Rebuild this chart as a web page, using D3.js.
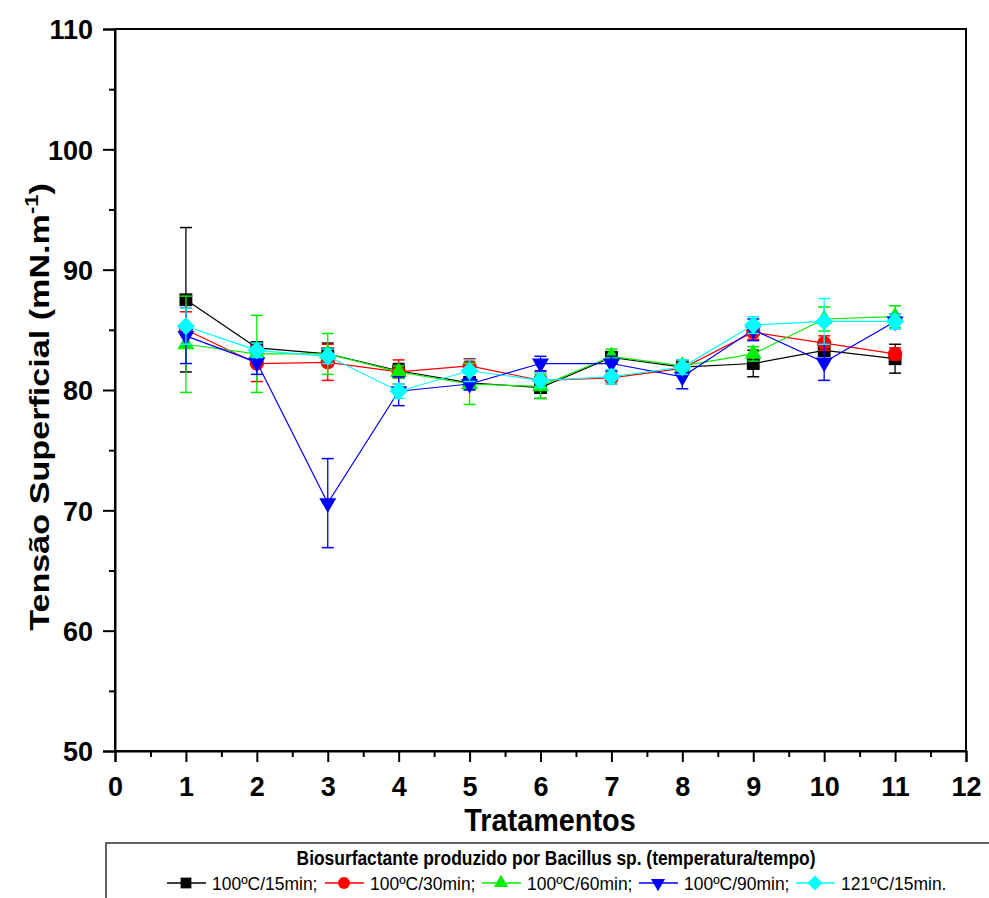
<!DOCTYPE html>
<meta charset="utf-8">
<style>
  body { margin: 0; background: #fff; }
  svg { display: block; font-family: "Liberation Sans", Arial, sans-serif; }
  .tick text { font-weight: bold; font-size: 27px; }
  .axis path, .axis line { stroke: #000; stroke-width: 2px; }
</style>
<body>
<script src="https://cdn.jsdelivr.net/npm/d3@7"></script>
<script>
// treatments on the x axis
var treatments = [1, 2, 3, 4, 5, 6, 7, 8, 9, 10, 11];

// series names (legend)
var seriesNames = ["100ºC/15min;", "100ºC/30min;", "100ºC/60min;", "100ºC/90min;", "121ºC/15min."];

// means, one array per series
var s15  = [87.5, 83.5, 83.0, 81.6, 80.6, 80.2, 82.7, 81.9, 82.2, 83.3, 82.6];
var s30  = [85.0, 82.2, 82.3, 81.5, 82.0, 80.8, 81.0, 81.8, 84.8, 83.9, 83.0];
var s60  = [83.8, 83.0, 83.0, 81.5, 80.5, 80.3, 82.8, 82.0, 83.0, 85.9, 86.1];
var s90  = [84.5, 82.3, 70.6, 79.9, 80.5, 82.2, 82.2, 81.1, 85.0, 82.3, 85.7];
var s121 = [85.3, 83.3, 82.8, 79.9, 81.6, 80.8, 81.1, 81.9, 85.4, 85.7, 85.7];

// standard deviations (error bars)
var e15  = [6.0, 0.5, 0.9, 0.6, 0.5, 0.9, 0.5, 0.6, 1.1, 0.5, 1.2];
var e30  = [1.5, 1.5, 1.5, 1.0, 0.6, 0.7, 0.5, 0.5, 0.6, 0.6, 0.5];
var e60  = [4.0, 3.2, 1.7, 0.5, 1.7, 1.0, 0.6, 0.5, 0.6, 1.0, 0.9];
var e90  = [2.3, 1.0, 3.7, 1.2, 0.5, 0.6, 0.6, 1.0, 0.9, 1.5, 0.6];
var e121 = [1.5, 0.6, 0.6, 0.6, 0.9, 0.6, 0.6, 0.6, 0.7, 1.9, 0.6];

var colors  = ["#000000", "#ff0000", "#00ee00", "#0000ff", "#00ffff"];
var means = [s15, s30, s60, s90, s121];
var errs  = [e15, e30, e60, e90, e121];

var xTicks = d3.range(0, 13);
var yTicks = [50, 60, 70, 80, 90, 100, 110];

// marker shapes: square, circle, up triangle, down triangle, diamond
function marker(i, k) {
  k = k || 1;
  if (i === 0) return {d: d3.symbol().type(d3.symbolSquare).size(165 * k)(), rot: 0};
  if (i === 1) return {d: d3.symbol().type(d3.symbolCircle).size(160 * k)(), rot: 0};
  if (i === 2) return {d: d3.symbol().type(d3.symbolTriangle).size(125 * k)(), rot: 0};
  if (i === 3) return {d: d3.symbol().type(d3.symbolTriangle).size(125 * k)(), rot: 180};
  return {d: d3.symbol().type(d3.symbolSquare).size(165 * k)(), rot: 45};
}

var W = 989, H = 898;
var margin = {left: 115, top: 29, right: 23, bottom: 147};

var svg = d3.select("body").append("svg").attr("width", W).attr("height", H);

var x = d3.scaleLinear().domain([0, 12]).range([margin.left, W - margin.right]);
var y = d3.scaleLinear().domain([50, 110]).range([H - margin.bottom, margin.top]);

// frame
svg.append("rect")
  .attr("x", x(0)).attr("y", y(110))
  .attr("width", x(12) - x(0)).attr("height", y(50) - y(110))
  .attr("fill", "none").attr("stroke", "#000").attr("stroke-width", 2);

// x axis, major + minor
var gx = svg.append("g").attr("class", "axis")
  .attr("transform", "translate(0," + y(50) + ")")
  .call(d3.axisBottom(x).tickValues(xTicks).tickFormat(d3.format("d")).tickSize(11).tickPadding(15));
svg.append("g").attr("class", "axis")
  .attr("transform", "translate(0," + y(50) + ")")
  .call(d3.axisBottom(x).tickValues(d3.range(0.5, 12, 1)).tickFormat("").tickSize(6))
  .select(".domain").remove();

var gy = svg.append("g").attr("class", "axis")
  .attr("transform", "translate(" + x(0) + ",0)")
  .call(d3.axisLeft(y).tickValues(yTicks).tickSize(12).tickPadding(10));
svg.append("g").attr("class", "axis")
  .attr("transform", "translate(" + x(0) + ",0)")
  .call(d3.axisLeft(y).tickValues(d3.range(55, 110, 10)).tickFormat("").tickSize(6))
  .select(".domain").remove();

gx.selectAll(".tick text").attr("dy", "0.71em");
gy.selectAll(".tick text").attr("dy", "0.36em");

// axis titles
svg.append("text")
  .attr("transform", "translate(550,831) scale(0.93,1)")
  .attr("text-anchor", "middle")
  .style("font-size", "31px").style("font-weight", "bold")
  .text("Tratamentos");

var yl = svg.append("text")
  .attr("transform", "translate(49,407) rotate(-90) scale(1.22,1)")
  .attr("text-anchor", "middle")
  .style("font-size", "28px").style("font-weight", "bold");
yl.append("tspan").text("Tensão Superficial (mN.m");
yl.append("tspan").attr("dy", -11).style("font-size", "18px").text("-1");
yl.append("tspan").attr("dy", 11).text(")");

// series
var line = d3.line().x(function(d){ return x(d.t); }).y(function(d){ return y(d.v); });

means.forEach(function(m, i){
  var pts = treatments.map(function(t, j){ return {t: t, v: m[j], e: errs[i][j]}; });
  var g = svg.append("g");

  g.append("path").datum(pts)
    .attr("d", line).attr("fill", "none")
    .attr("stroke", colors[i]).attr("stroke-width", 1.2);

  var eb = g.selectAll(".eb").data(pts).enter().append("g");
  eb.append("line")
    .attr("x1", function(d){ return x(d.t); }).attr("x2", function(d){ return x(d.t); })
    .attr("y1", function(d){ return y(d.v - d.e); }).attr("y2", function(d){ return y(d.v + d.e); })
    .attr("stroke", colors[i]).attr("stroke-width", 1.3);
  [-1, 1].forEach(function(s){
    eb.append("line")
      .attr("x1", function(d){ return x(d.t) - 6; }).attr("x2", function(d){ return x(d.t) + 6; })
      .attr("y1", function(d){ return y(d.v + s * d.e); }).attr("y2", function(d){ return y(d.v + s * d.e); })
      .attr("stroke", colors[i]).attr("stroke-width", 1.5);
  });

  var mk = marker(i);
  g.selectAll(".mk").data(pts).enter().append("path")
    .attr("d", mk.d)
    .attr("transform", function(d){
      return "translate(" + x(d.t) + "," + y(d.v) + ") rotate(" + mk.rot + ")";
    })
    .attr("fill", colors[i]);
});

// legend box
var lg = svg.append("g");
lg.append("rect")
  .attr("x", 106).attr("y", 843).attr("width", 900).attr("height", 70)
  .attr("fill", "#fff").attr("stroke", "#333").attr("stroke-width", 1.5);
lg.append("text")
  .attr("transform", "translate(556,865) scale(0.87,1)")
  .attr("text-anchor", "middle")
  .style("font-size", "20px").style("font-weight", "bold")
  .text("Biosurfactante produzido por Bacillus sp. (temperatura/tempo)");

var legX = [186, 344, 501, 658, 815];
seriesNames.forEach(function(n, i){
  var cx = legX[i], cy = 883;
  lg.append("line").attr("x1", cx - 19).attr("x2", cx + 20).attr("y1", cy).attr("y2", cy)
    .attr("stroke", colors[i]).attr("stroke-width", 1.5);
  var mk = marker(i, 0.7);
  lg.append("path")
    .attr("d", mk.d)
    .attr("transform", "translate(" + cx + "," + cy + ") rotate(" + mk.rot + ")")
    .attr("fill", colors[i]);
  lg.append("text")
    .attr("transform", "translate(" + (cx + 26) + "," + (cy + 7) + ") scale(0.92,1)")
    .style("font-size", "19px")
    .text(n);
});
</script>
</body>
